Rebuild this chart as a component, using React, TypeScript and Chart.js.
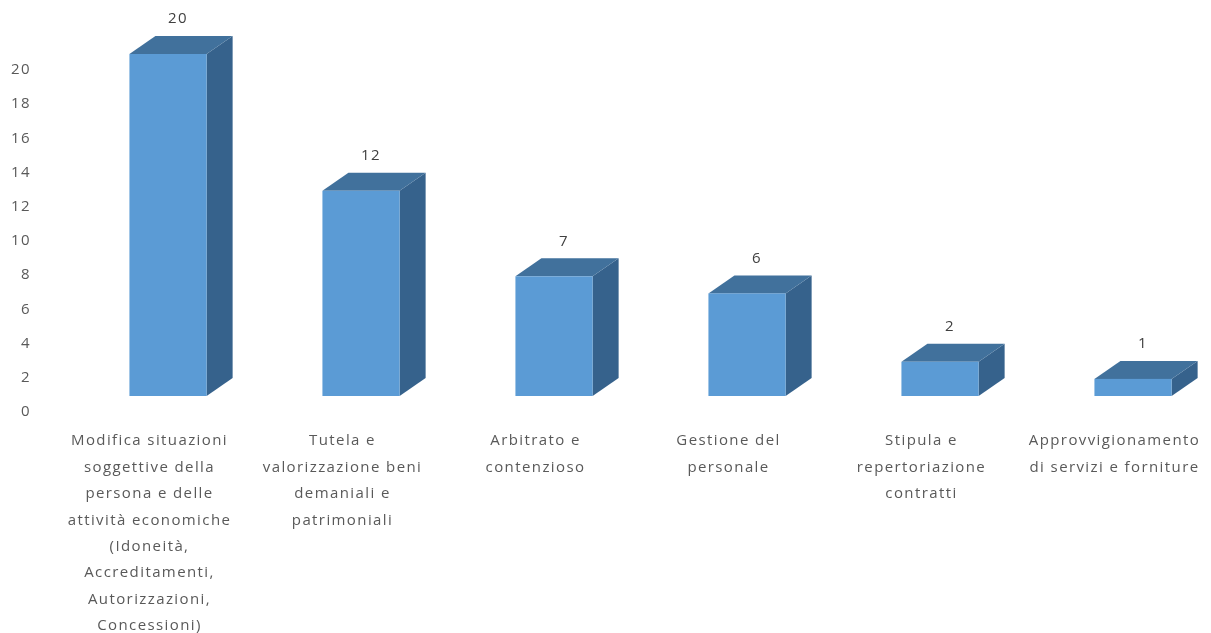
import React, { useEffect, useRef } from "react";
import { Chart, registerables } from "chart.js";

Chart.register(...registerables);

const categories: string[][] = [
  ["Modifica situazioni", "soggettive della", "persona e delle", "attività economiche", "(Idoneità,", "Accreditamenti,", "Autorizzazioni,", "Concessioni)"],
  ["Tutela e", "valorizzazione beni", "demaniali e", "patrimoniali"],
  ["Arbitrato e", "contenzioso"],
  ["Gestione del", "personale"],
  ["Stipula e", "repertoriazione", "contratti"],
  ["Approvvigionamento", "di servizi e forniture"],
];
const values: number[] = [20, 12, 7, 6, 2, 1];
const yTicks: number[] = [0, 2, 4, 6, 8, 10, 12, 14, 16, 18, 20];

const FRONT = "#5B9BD5";
const TOP = "#41719C";
const SIDE = "#36628C";
const TEXT = "#595959";
const FONT = "'Open Sans', 'Liberation Sans', sans-serif";

const spacing = {
  id: "spacing",
  beforeDraw(chart: any) {
    (chart.ctx as any).letterSpacing = "1.4px";
  },
};

const bars3d = {
  id: "bars3d",
  afterDatasetsDraw(chart: any) {
    const ctx = chart.ctx;
    const xs = chart.scales.x;
    const ys = chart.scales.y;
    const catW = xs.width / values.length;
    const lift = 16;
    const dx = 26;
    const dy = 18;
    ctx.save();
    values.forEach((v, i) => {
      const cx = xs.getPixelForValue(i);
      const L = cx - 0.104 * catW;
      const W = 0.4 * catW;
      const R = L + W;
      const yt = ys.getPixelForValue(v) - lift;
      const yb = ys.getPixelForValue(0) - lift;
      // side
      ctx.fillStyle = SIDE;
      ctx.beginPath();
      ctx.moveTo(R, yt);
      ctx.lineTo(R + dx, yt - dy);
      ctx.lineTo(R + dx, yb - dy);
      ctx.lineTo(R, yb);
      ctx.closePath();
      ctx.fill();
      // top
      ctx.fillStyle = TOP;
      ctx.beginPath();
      ctx.moveTo(L, yt);
      ctx.lineTo(R, yt);
      ctx.lineTo(R + dx, yt - dy);
      ctx.lineTo(L + dx, yt - dy);
      ctx.closePath();
      ctx.fill();
      // front
      ctx.fillStyle = FRONT;
      ctx.fillRect(L, yt, W, yb - yt);
      // label
      ctx.fillStyle = "#404040";
      ctx.font = `15px ${FONT}`;
      ctx.textAlign = "center";
      ctx.textBaseline = "middle";
      ctx.fillText(String(v), L + W / 2 + 10, yt - dy - 17);
    });
    ctx.restore();
  },
};

export default function App() {
  const ref = useRef<HTMLCanvasElement | null>(null);
  useEffect(() => {
    document.body.style.margin = "0";
    const chart = new Chart(ref.current!, {
      type: "bar",
      data: {
        labels: categories,
        datasets: [
          {
            data: values,
            backgroundColor: "rgba(0,0,0,0)",
            borderWidth: 0,
          },
        ],
      },
      options: {
        animation: false,
        responsive: false,
        maintainAspectRatio: false,
        events: [],
        layout: { padding: { top: 70, right: 0, left: 0, bottom: 0 } },
        plugins: {
          legend: { display: false },
          tooltip: { enabled: false },
        },
        scales: {
          x: {
            grid: { display: false, drawTicks: false },
            border: { display: false },
            ticks: {
              color: TEXT,
              font: { family: FONT, size: 15, lineHeight: 1.76 },
              padding: 16,
              maxRotation: 0,
              autoSkip: false,
            },
            afterFit: (s: any) => {
              s.height = 221;
            },
          },
          y: {
            min: 0,
            max: 20,
            afterBuildTicks: (s: any) => {
              s.ticks = yTicks.map((v) => ({ value: v }));
            },
            grid: { display: false, drawTicks: false },
            border: { display: false },
            ticks: {
              color: TEXT,
              font: { family: FONT, size: 15 },
              padding: 22,
            },
            afterFit: (s: any) => {
              s.width = 53;
            },
          },
        },
      },
      plugins: [spacing, bars3d],
    });
    return () => chart.destroy();
  }, []);
  return (
    <div style={{ width: 1211, height: 633, background: "#fff" }}>
      <canvas ref={ref} width={1211} height={633} style={{ display: "block" }} />
    </div>
  );
}
